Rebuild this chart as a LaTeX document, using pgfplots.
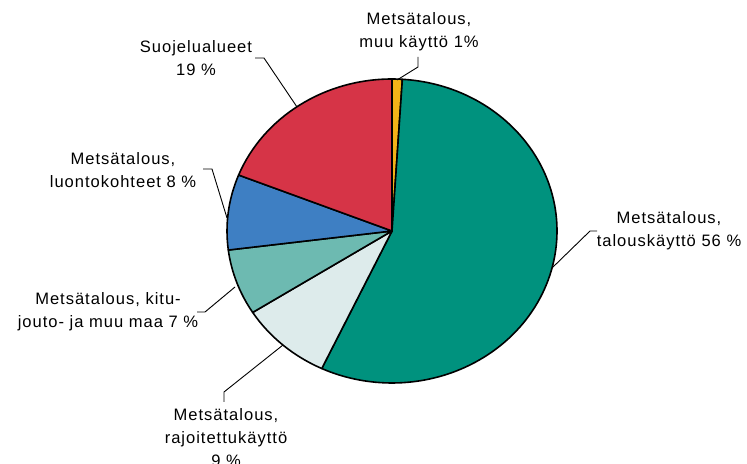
\documentclass[border=0pt]{standalone}
\usepackage{pgfplots}
\pgfplotsset{compat=1.18}
\usepackage{fontspec}
\setmainfont[LetterSpace=6]{Liberation Sans}

\definecolor{cYellow}{HTML}{F2B318}
\definecolor{cTeal}{HTML}{00927E}
\definecolor{cLight}{HTML}{DDEBEB}
\definecolor{cLtTeal}{HTML}{6DBAB1}
\definecolor{cBlue}{HTML}{3E7FC3}
\definecolor{cRed}{HTML}{D63447}

\begin{document}
\begin{tikzpicture}
	\begin{axis}[
		at={(0,0)}, anchor=south west,
		scale only axis,
		width=747bp, height=464bp,
		xmin=0, xmax=747, ymin=0, ymax=464,
		hide axis, clip=false,
		]
		% pie slices, clockwise from 12 o'clock (share in %)
		\def\startang{90}
		\foreach \v/\col in {1/cYellow, 56/cTeal, 9/cLight, 7/cLtTeal, 8/cBlue, 19/cRed}{%
			\pgfmathsetmacro\endang{\startang-3.6*\v}
			\edef\temp{\noexpand\filldraw[fill=\col, draw=black, line width=1.6bp, line join=round]
				(axis cs:392,233) -- ++(\startang:165bp and 152bp)
				arc[start angle=\startang, end angle=\endang, x radius=165bp, y radius=152bp] -- cycle;}
			\temp
			\xdef\startang{\endang}
		}
		
		% leader lines
		\draw[line width=0.9bp] (axis cs:418,407) -- (axis cs:418,397) -- (axis cs:397,384);
		\draw[line width=0.9bp] (axis cs:255,406) -- (axis cs:264,406) -- (axis cs:297,357);
		\draw[line width=0.9bp] (axis cs:203,295) -- (axis cs:212,295) -- (axis cs:227,246);
		\draw[line width=0.9bp] (axis cs:197,152) -- (axis cs:205,152) -- (axis cs:235,177);
		\draw[line width=0.9bp] (axis cs:224,62) -- (axis cs:224,72) -- (axis cs:283,119);
		\draw[line width=0.9bp] (axis cs:597,233) -- (axis cs:590,233) -- (axis cs:552,196);
		
		% labels
		\tikzset{lbl/.style={align=center, inner sep=0pt, font=\fontsize{16.6}{23}\selectfont}}
		\node[lbl] at (axis cs:419,432.5) {Metsätalous,\\muu käyttö 1\%};
		\node[lbl] at (axis cs:196,405.5) {Suojelualueet\\19 \%};
		\node[lbl] at (axis cs:123,294) {Metsätalous,\\luontokohteet 8 \%};
		\node[lbl] at (axis cs:108,152.5) {Metsätalous, kitu-\\jouto- ja muu maa 7 \%};
		\node[lbl] at (axis cs:226,26) {Metsätalous,\\rajoitettukäyttö\\9 \%};
		\node[lbl] at (axis cs:669,233) {Metsätalous,\\talouskäyttö 56 \%};
	\end{axis}
	\pgfresetboundingbox
	\path (0,0) rectangle (747bp,464bp);
\end{tikzpicture}
\end{document}
